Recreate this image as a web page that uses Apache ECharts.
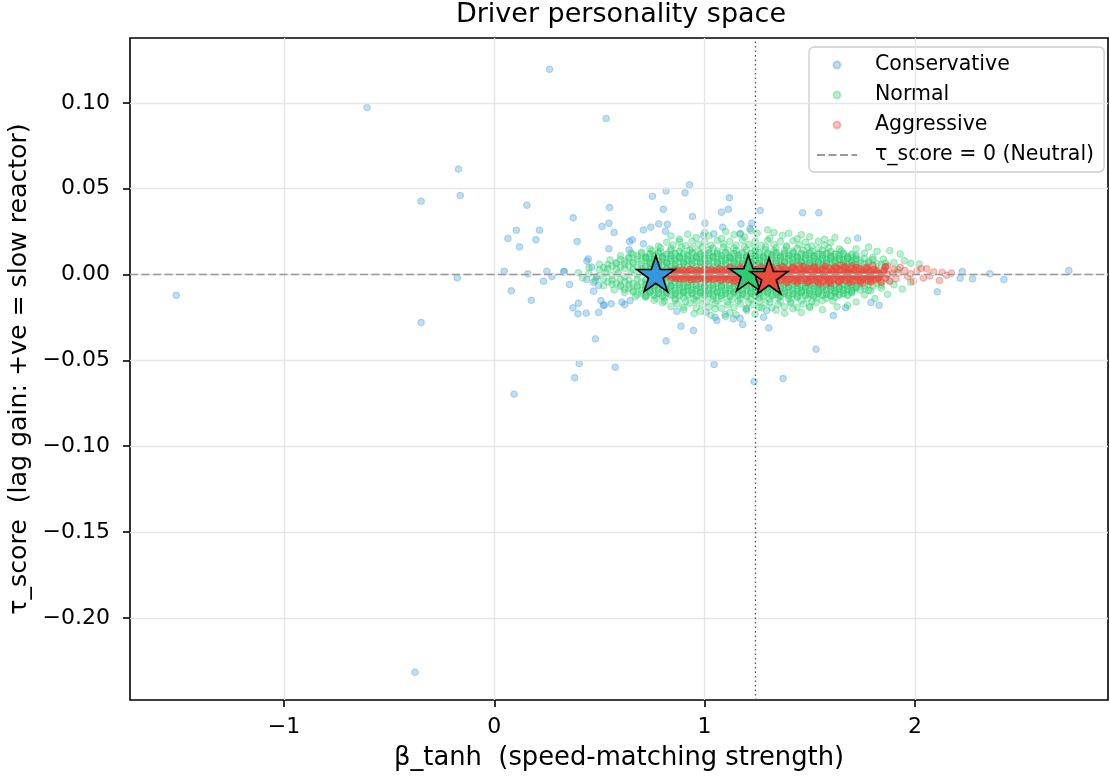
<!DOCTYPE html>
<html>
<head>
<meta charset="utf-8">
<script src="https://cdn.jsdelivr.net/npm/echarts@6/dist/echarts.min.js"></script>
<style>
html,body{margin:0;padding:0;background:#fff;}
#chart{width:1110px;height:780px;}
</style>
</head>
<body>
<div id="chart"></div>
<script>
// ---------- data ----------
const seriesNames = ['Conservative', 'Normal', 'Aggressive'];
const neutralName = 'τ_score = 0 (Neutral)';

const conservativePts = [
  [-1.512,-0.0121],[-0.605,0.0973],[-0.17,0.0614],[-0.162,0.046],[-0.348,0.0427],[-0.176,-0.0019],[-0.348,-0.028],[-0.377,-0.2317],[0.263,0.1196],[0.532,0.0909],
  [0.155,0.0404],[0.105,0.0258],[0.065,0.021],[0.12,0.0161],[0.215,0.0258],[0.198,0.0202],[0.0475,0.0019],[0.16,0.0004],[0.234,-0.0039],[0.081,-0.0095],
  [0.176,-0.015],[0.25,0.0019],[0.094,-0.0697],[0.382,-0.0602],[0.404,-0.0519],[0.575,-0.054],[0.481,-0.0375],[0.374,-0.0194],[0.398,-0.0229],[0.437,-0.0225],
  [0.496,-0.0221],[0.523,-0.0177],[0.556,-0.0171],[0.40,-0.0167],[0.62,-0.0175],[0.375,0.033],[0.394,0.0192],[0.33,0.0016],[0.274,-0.0012],[0.358,-0.0058],
  [0.928,0.0523],[0.907,0.0476],[0.817,0.0486],[0.752,0.0456],[0.804,0.038],[0.548,0.039],[0.512,0.028],[0.545,0.0299],[0.57,0.0245],[0.643,0.0192],
  [0.656,0.0202],[0.709,0.026],[0.744,0.0276],[0.782,0.0295],[0.823,0.0293],[0.814,0.0252],[0.942,0.0338],[0.545,0.015],[0.641,0.0144],[0.709,0.0179],
  [0.447,0.0091],[0.44,0.0078],[0.464,0.0043],[0.333,0.0017],[0.44,-0.0029],[0.472,-0.0045],[0.485,-0.0016],[0.496,-0.0064],[0.472,-0.0097],[0.507,-0.0152],
  [0.519,-0.018],[0.607,-0.0161],[0.646,-0.0152],[0.868,-0.0214],[0.888,-0.0301],[0.947,-0.0326],[0.817,-0.0387],
  [1.002,0.0299],[1.044,0.0237],[0.994,0.0227],[1.086,0.0276],[1.08,0.0363],[1.113,0.038],[1.118,0.0447],[1.173,0.0295],[1.224,0.0299],[1.216,0.0266],
  [1.169,0.0237],[1.007,-0.022],[1.05,-0.0249],[1.097,-0.0233],[1.137,-0.0258],[1.169,-0.0255],[1.181,-0.0291],[1.058,-0.0268],
  [1.264,0.0373],[1.466,0.036],[1.543,0.036],[1.295,-0.021],[1.28,-0.0249],[1.305,-0.0311],[1.612,-0.0239],[1.53,-0.0435],[1.235,-0.0624],[1.373,-0.0606],
  [1.045,-0.0524],[1.197,-0.02],
  [1.728,0.0212],[1.671,-0.0194],[1.791,-0.0163],[1.83,-0.0179],[2.106,-0.0101],[2.225,0.0017],[2.215,-0.0022],[2.274,-0.0025],[2.356,0.0004],[2.423,-0.0029],
  [2.732,0.0023]
];

const normalPts = [
  [0.45,0.0005],[0.49,-0.001],[0.53,0.0012],[0.56,-0.0006],[0.59,0.0008],[0.62,-0.0012],[0.65,0.001],[0.68,-0.0004],[0.71,0.0014],[0.74,-0.0010],[0.77,0.0006],[0.80,-0.0015],
  [0.50,0.0028],[0.54,0.0033],[0.58,0.0030],[0.62,0.0035],[0.66,0.0029],[0.70,0.0034],[0.74,0.0031],[0.78,0.0036],[0.82,0.0032],[0.86,0.0035],
  [0.52,-0.0027],[0.56,-0.0032],[0.60,-0.0029],[0.64,-0.0034],[0.68,-0.0028],[0.72,-0.0033],[0.76,-0.0030],[0.80,-0.0035],[0.84,-0.0031],
  [0.52,0.0040],[0.56,0.0048],[0.60,0.0043],[0.64,0.0050],[0.68,0.0041],[0.72,0.0047],[0.76,0.0044],[0.80,0.0051],[0.84,0.0046],[0.88,0.0042],[0.92,0.0049],[0.96,0.0045],
  [1.00,0.0052],[1.04,0.0043],[1.08,0.0048],[1.12,0.0046],[1.16,0.0051],[1.20,0.0044],[1.24,0.0049],[1.28,0.0053],[1.32,0.0047],[1.36,0.0055],[1.40,0.0050],[1.44,0.0057],
  [1.48,0.0052],[1.52,0.0058],[1.56,0.0054],[1.60,0.0059],[1.64,0.0055],[1.68,0.0060],[1.72,0.0056],[1.76,0.0061],[1.80,0.0055],[1.84,0.0058],
  [0.54,-0.0042],[0.58,-0.0049],[0.62,-0.0044],[0.66,-0.0051],[0.70,-0.0043],[0.74,-0.0048],[0.78,-0.0046],[0.82,-0.0052],[0.86,-0.0045],[0.90,-0.0050],[0.94,-0.0044],
  [0.98,-0.0053],[1.02,-0.0047],[1.06,-0.0051],[1.10,-0.0045],[1.14,-0.0052],[1.18,-0.0048],[1.22,-0.0054],[1.26,-0.0049],[1.30,-0.0055],[1.34,-0.0050],[1.38,-0.0057],
  [1.42,-0.0052],[1.46,-0.0058],[1.50,-0.0053],[1.54,-0.0059],[1.58,-0.0055],[1.62,-0.0060],[1.66,-0.0056],[1.70,-0.0059],[1.74,-0.0054],[1.78,-0.0058],[1.82,-0.0053],
  [0.54,0.0058],[0.58,0.0063],[0.62,0.0060],[0.66,0.0065],[0.70,0.0059],[0.74,0.0064],[0.78,0.0061],[0.82,0.0066],[0.86,0.0060],[0.90,0.0065],[0.94,0.0062],[0.98,0.0067],
  [1.02,0.0061],[1.06,0.0066],[1.10,0.0063],[1.14,0.0068],[1.18,0.0062],[1.22,0.0067],[1.26,0.0064],[1.30,0.0069],[1.34,0.0065],[1.38,0.0070],[1.42,0.0066],[1.46,0.0071],
  [1.50,0.0067],[1.54,0.0072],[1.58,0.0068],[1.62,0.0071],[1.66,0.0067],[1.70,0.0070],[1.74,0.0066],[1.78,0.0068],[1.82,0.0063],[1.86,0.0066],
  [0.56,-0.0058],[0.60,-0.0063],[0.64,-0.0060],[0.68,-0.0065],[0.72,-0.0059],[0.76,-0.0064],[0.80,-0.0061],[0.84,-0.0066],[0.88,-0.0060],[0.92,-0.0065],[0.96,-0.0062],
  [1.00,-0.0067],[1.04,-0.0061],[1.08,-0.0066],[1.12,-0.0063],[1.16,-0.0068],[1.20,-0.0062],[1.24,-0.0067],[1.28,-0.0064],[1.32,-0.0069],[1.36,-0.0065],[1.40,-0.0070],
  [1.44,-0.0066],[1.48,-0.0071],[1.52,-0.0067],[1.56,-0.0072],[1.60,-0.0068],[1.64,-0.0071],[1.68,-0.0067],[1.72,-0.0070],[1.76,-0.0066],[1.80,-0.0068],[1.84,-0.0063],
  [0.58,0.0070],[0.62,0.0078],[0.66,0.0072],[0.70,0.0080],[0.74,0.0074],[0.78,0.0079],[0.82,0.0073],[0.86,0.0081],[0.90,0.0075],[0.94,0.0082],[0.98,0.0076],[1.02,0.0080],
  [1.06,0.0074],[1.10,0.0083],[1.14,0.0077],[1.18,0.0081],[1.22,0.0075],[1.26,0.0084],[1.30,0.0078],[1.34,0.0082],[1.38,0.0076],[1.42,0.0085],[1.46,0.0079],[1.50,0.0083],
  [1.54,0.0077],[1.58,0.0084],[1.62,0.0080],[1.66,0.0086],[1.70,0.0078],[1.74,0.0083],[1.78,0.0076],
  [0.60,-0.0071],[0.64,-0.0079],[0.68,-0.0073],[0.72,-0.0080],[0.76,-0.0075],[0.80,-0.0082],[0.84,-0.0074],[0.88,-0.0079],[0.92,-0.0076],[0.96,-0.0083],[1.00,-0.0077],
  [1.04,-0.0081],[1.08,-0.0075],[1.12,-0.0084],[1.16,-0.0078],[1.20,-0.0082],[1.24,-0.0076],[1.28,-0.0085],[1.32,-0.0079],[1.36,-0.0083],[1.40,-0.0077],[1.44,-0.0086],
  [1.48,-0.0080],[1.52,-0.0084],[1.56,-0.0078],[1.60,-0.0085],[1.64,-0.0081],[1.68,-0.0086],[1.72,-0.0079],[1.76,-0.0083],
  [0.60,0.0088],[0.64,0.0093],[0.68,0.0090],[0.72,0.0095],[0.76,0.0089],[0.80,0.0094],[0.84,0.0091],[0.88,0.0096],[0.92,0.0090],[0.96,0.0095],[1.00,0.0092],[1.04,0.0097],
  [1.08,0.0091],[1.12,0.0096],[1.16,0.0093],[1.20,0.0098],[1.24,0.0092],[1.28,0.0097],[1.32,0.0094],[1.36,0.0099],[1.40,0.0093],[1.44,0.0098],[1.48,0.0094],[1.52,0.0097],
  [1.56,0.0092],[1.60,0.0096],[1.64,0.0091],[1.68,0.0095],[1.72,0.0090],[1.76,0.0093],[1.80,0.0088],
  [0.62,-0.0088],[0.66,-0.0093],[0.70,-0.0090],[0.74,-0.0095],[0.78,-0.0089],[0.82,-0.0094],[0.86,-0.0091],[0.90,-0.0096],[0.94,-0.0090],[0.98,-0.0095],[1.02,-0.0092],
  [1.06,-0.0097],[1.10,-0.0091],[1.14,-0.0096],[1.18,-0.0093],[1.22,-0.0098],[1.26,-0.0092],[1.30,-0.0097],[1.34,-0.0094],[1.38,-0.0099],[1.42,-0.0093],[1.46,-0.0098],
  [1.50,-0.0094],[1.54,-0.0097],[1.58,-0.0092],[1.62,-0.0096],[1.66,-0.0091],[1.70,-0.0095],[1.74,-0.0090],[1.78,-0.0092],
  [0.64,0.0100],[0.68,0.0108],[0.72,0.0102],[0.76,0.0110],[0.80,0.0104],[0.84,0.0109],[0.88,0.0103],[0.92,0.0111],[0.96,0.0105],[1.00,0.0112],[1.04,0.0106],[1.08,0.0110],
  [1.12,0.0104],[1.16,0.0113],[1.20,0.0107],[1.24,0.0111],[1.28,0.0105],[1.32,0.0114],[1.36,0.0108],[1.40,0.0112],[1.44,0.0106],[1.48,0.0113],[1.52,0.0109],[1.56,0.0114],
  [1.60,0.0107],[1.64,0.0111],[1.68,0.0105],[1.72,0.0110],
  [0.66,-0.0101],[0.70,-0.0109],[0.74,-0.0103],[0.78,-0.0110],[0.82,-0.0105],[0.86,-0.0112],[0.90,-0.0104],[0.94,-0.0109],[0.98,-0.0106],[1.02,-0.0113],[1.06,-0.0107],
  [1.10,-0.0111],[1.14,-0.0105],[1.18,-0.0114],[1.22,-0.0108],[1.26,-0.0112],[1.30,-0.0106],[1.34,-0.0115],[1.38,-0.0109],[1.42,-0.0113],[1.46,-0.0107],[1.50,-0.0114],
  [1.54,-0.0110],[1.58,-0.0115],[1.62,-0.0108],[1.66,-0.0112],[1.70,-0.0106],
  [0.66,0.0118],[0.70,0.0123],[0.74,0.0120],[0.78,0.0125],[0.82,0.0119],[0.86,0.0124],[0.90,0.0121],[0.94,0.0126],[0.98,0.0120],[1.02,0.0125],[1.06,0.0122],[1.10,0.0127],
  [1.14,0.0121],[1.18,0.0126],[1.22,0.0123],[1.26,0.0128],[1.30,0.0122],[1.34,0.0127],[1.38,0.0123],[1.42,0.0126],[1.46,0.0121],[1.50,0.0125],[1.54,0.0120],[1.58,0.0124],
  [1.62,0.0119],[1.66,0.0122],[1.70,0.0117],
  [0.68,-0.0118],[0.72,-0.0123],[0.76,-0.0120],[0.80,-0.0125],[0.84,-0.0119],[0.88,-0.0124],[0.92,-0.0121],[0.96,-0.0126],[1.00,-0.0120],[1.04,-0.0125],[1.08,-0.0122],
  [1.12,-0.0127],[1.16,-0.0121],[1.20,-0.0126],[1.24,-0.0123],[1.28,-0.0128],[1.32,-0.0122],[1.36,-0.0127],[1.40,-0.0123],[1.44,-0.0126],[1.48,-0.0121],[1.52,-0.0125],
  [1.56,-0.0120],[1.60,-0.0124],[1.64,-0.0119],[1.68,-0.0121],
  [0.70,0.0130],[0.75,0.0138],[0.79,0.0133],[0.84,0.0141],[0.88,0.0135],[0.93,0.0142],[0.97,0.0136],[1.02,0.0144],[1.06,0.0137],[1.11,0.0143],[1.15,0.0138],[1.20,0.0145],
  [1.24,0.0139],[1.29,0.0144],[1.33,0.0137],[1.38,0.0142],[1.42,0.0136],[1.47,0.0141],[1.51,0.0135],[1.56,0.0140],[1.60,0.0134],[1.65,0.0138],
  [0.72,-0.0131],[0.77,-0.0139],[0.81,-0.0134],[0.86,-0.0142],[0.90,-0.0136],[0.95,-0.0143],[0.99,-0.0137],[1.04,-0.0144],[1.08,-0.0138],[1.13,-0.0145],[1.17,-0.0139],
  [1.22,-0.0144],[1.26,-0.0137],[1.31,-0.0143],[1.35,-0.0136],[1.40,-0.0141],[1.44,-0.0135],[1.49,-0.0140],[1.53,-0.0134],[1.58,-0.0139],[1.62,-0.0133],
  [0.74,0.0150],[0.79,0.0156],[0.84,0.0152],[0.89,0.0158],[0.94,0.0153],[0.99,0.0159],[1.04,0.0154],[1.09,0.0160],[1.14,0.0155],[1.19,0.0161],[1.24,0.0156],[1.29,0.0160],
  [1.34,0.0155],[1.39,0.0159],[1.44,0.0153],[1.49,0.0157],[1.54,0.0152],[1.59,0.0155],[1.64,0.0150],
  [0.76,-0.0150],[0.81,-0.0156],[0.86,-0.0152],[0.91,-0.0158],[0.96,-0.0153],[1.01,-0.0159],[1.06,-0.0154],[1.11,-0.0160],[1.16,-0.0155],[1.21,-0.0161],[1.26,-0.0156],
  [1.31,-0.0160],[1.36,-0.0155],[1.41,-0.0159],[1.46,-0.0153],[1.51,-0.0157],[1.56,-0.0152],[1.61,-0.0154],
  [0.78,0.0165],[0.85,0.0172],[0.91,0.0168],[0.97,0.0176],[1.03,0.0170],[1.09,0.0178],[1.15,0.0171],[1.21,0.0177],[1.27,0.0169],[1.33,0.0175],[1.39,0.0167],[1.45,0.0173],
  [1.51,0.0166],[1.57,0.0170],
  [0.80,-0.0164],[0.87,-0.0171],[0.93,-0.0167],[0.99,-0.0175],[1.05,-0.0169],[1.11,-0.0177],[1.17,-0.0170],[1.23,-0.0176],[1.29,-0.0168],[1.35,-0.0174],[1.41,-0.0166],
  [1.47,-0.0172],[1.53,-0.0165],
  [0.82,0.0188],[0.88,0.0192],[0.94,0.0195],[1.00,0.0190],[1.06,0.0198],[1.12,0.0193],[1.18,0.0200],[1.24,0.0194],[1.30,0.0199],[1.36,0.0192],[1.42,0.0196],[1.48,0.0189],
  [1.54,0.0193],[1.60,0.0186],
  [0.84,-0.0186],[0.90,-0.0191],[0.96,-0.0194],[1.02,-0.0189],[1.08,-0.0196],[1.14,-0.0192],[1.20,-0.0197],[1.26,-0.0190],[1.32,-0.0194],[1.38,-0.0188],[1.44,-0.0191],
  [1.50,-0.0185],
  [0.88,0.0205],[0.96,0.0215],[1.02,0.0225],[1.08,0.0210],[1.14,0.0232],[1.19,0.0218],[1.25,0.0240],[1.31,0.0212],[1.37,0.0228],[1.44,0.0208],[1.50,0.0220],[1.57,0.0205],
  [1.62,0.0215],[1.68,0.0198],
  [0.92,0.0235],[1.00,0.0245],[1.10,0.0250],[1.17,0.0238],[1.22,0.0255],[1.33,0.0245],[1.40,0.0240],[1.46,0.0232],[1.30,0.0260],[0.84,0.0225],
  [0.90,-0.0205],[0.98,-0.0215],[1.05,-0.0200],[1.12,-0.0222],[1.20,-0.0210],[1.27,-0.0195],[1.34,-0.0208],[1.42,-0.0200],[1.50,-0.0192],[1.56,-0.0205],[1.63,-0.0188],
  [0.95,-0.0228],[1.03,-0.0238],[1.15,-0.0235],[1.24,-0.0230],[1.38,-0.0225],[1.46,-0.0222],[1.10,-0.0245],
  [1.72,0.0150],[1.76,0.0125],[1.78,0.0160],[1.80,0.0100],[1.82,0.0135],[1.85,0.0090],[1.88,0.0140],[1.90,0.0070],[1.93,0.0120],[1.95,0.0080],[1.98,0.0065],[2.02,0.0060],
  [1.76,-0.0120],[1.79,-0.0095],[1.81,-0.0140],[1.84,-0.0080],[1.87,-0.0115],[1.90,-0.0060],[1.94,-0.0085],[1.98,-0.0045],[1.72,-0.0160],[1.68,-0.0180],[1.86,0.0045],
  [1.88,-0.0035],[1.92,0.0030],
  [0.45,0.0040],[0.48,-0.0035],[0.50,0.0060],[0.52,-0.0065],[0.55,0.0085],[0.57,-0.0090],[0.60,0.0110],[0.62,-0.0105],[0.65,0.0125],[0.67,-0.0130],[0.40,0.0010],[0.42,-0.0020]
];

const aggressivePts = [
  [0.86,0.0022],[0.895,0.0026],[0.93,0.0029],[0.965,0.0025],[1.0,0.0031],[1.035,0.0027],[1.07,0.0033],[1.105,0.0028],[1.14,0.0032],[1.175,0.0030],[1.21,0.0034],
  [1.245,0.0029],[1.28,0.0035],[1.315,0.0031],[1.35,0.0036],[1.385,0.0033],[1.42,0.0038],[1.455,0.0034],[1.49,0.0037],[1.525,0.0039],[1.56,0.0035],[1.595,0.0038],
  [1.63,0.0036],[1.665,0.0040],[1.70,0.0034],[1.735,0.0037],[1.77,0.0033],[1.805,0.0030],
  [0.838,0.0020],[0.873,0.0023],[0.908,0.0019],[0.943,0.0024],[0.978,0.0021],[1.013,0.0025],[1.048,0.0020],[1.083,0.0026],[1.118,0.0022],[1.153,0.0025],[1.188,0.0021],
  [1.223,0.0027],[1.258,0.0023],[1.293,0.0026],[1.328,0.0024],[1.363,0.0028],[1.398,0.0025],[1.433,0.0029],[1.468,0.0026],[1.503,0.0030],[1.538,0.0027],[1.573,0.0031],
  [1.608,0.0028],[1.643,0.0030],[1.678,0.0027],[1.713,0.0029],[1.748,0.0025],[1.783,0.0027],[1.818,0.0023],[1.853,0.0026],
  [0.82,0.0011],[0.853,0.0014],[0.888,0.0012],[0.921,0.0016],[0.956,0.0013],[0.99,0.0017],[1.024,0.0012],[1.058,0.0018],[1.092,0.0014],[1.127,0.0016],[1.161,0.0013],
  [1.196,0.0019],[1.23,0.0015],[1.264,0.0017],[1.299,0.0014],[1.333,0.0019],[1.368,0.0016],[1.402,0.0020],[1.437,0.0015],[1.471,0.0018],[1.506,0.0021],[1.54,0.0016],
  [1.575,0.0019],[1.609,0.0017],[1.644,0.0020],[1.678,0.0015],[1.713,0.0018],[1.747,0.0014],[1.782,0.0017],[1.816,0.0012],[1.85,0.0015],
  [0.80,0.0001],[0.836,-0.0003],[0.87,0.0004],[0.905,-0.0002],[0.94,0.0003],[0.974,-0.0004],[1.008,0.0002],[1.043,-0.0001],[1.077,0.0005],[1.112,-0.0003],[1.146,0.0002],
  [1.181,-0.0002],[1.215,0.0004],[1.25,-0.0004],[1.284,0.0001],[1.319,0.0003],[1.353,-0.0003],[1.388,0.0002],[1.422,-0.0001],[1.457,0.0004],[1.491,-0.0003],[1.526,0.0001],
  [1.56,-0.0002],[1.595,0.0003],[1.629,-0.0004],[1.664,0.0002],[1.698,-0.0001],[1.733,0.0003],[1.767,-0.0002],[1.802,0.0001],[1.836,-0.0003],[1.87,0.0002],
  [0.818,0.0003],[0.853,-0.0001],[0.888,0.0002],[0.923,-0.0003],[0.958,0.0001],[0.993,-0.0002],[1.028,0.0004],[1.063,-0.0003],[1.098,0.0001],[1.133,-0.0001],[1.168,0.0003],
  [1.203,-0.0002],[1.238,0.0002],[1.273,-0.0004],[1.308,0.0003],[1.343,-0.0001],[1.378,0.0002],[1.413,-0.0003],[1.448,0.0001],[1.483,0.0003],[1.518,-0.0002],[1.553,0.0002],
  [1.588,-0.0003],[1.623,0.0001],[1.658,-0.0002],[1.693,0.0003],[1.728,-0.0001],[1.763,0.0002],[1.798,-0.0002],[1.833,0.0001],
  [0.825,-0.0010],[0.86,-0.0014],[0.894,-0.0012],[0.929,-0.0016],[0.963,-0.0013],[0.998,-0.0017],[1.032,-0.0014],[1.067,-0.0018],[1.101,-0.0013],[1.136,-0.0017],
  [1.17,-0.0015],[1.205,-0.0019],[1.239,-0.0014],[1.274,-0.0018],[1.308,-0.0016],[1.343,-0.0020],[1.377,-0.0015],[1.412,-0.0019],[1.446,-0.0017],[1.481,-0.0021],
  [1.515,-0.0016],[1.55,-0.0019],[1.584,-0.0018],[1.619,-0.0021],[1.653,-0.0016],[1.688,-0.0019],[1.722,-0.0015],[1.757,-0.0018],[1.791,-0.0014],[1.826,-0.0016],
  [0.845,-0.0019],[0.88,-0.0023],[0.915,-0.0020],[0.95,-0.0024],[0.985,-0.0021],[1.02,-0.0025],[1.055,-0.0022],[1.09,-0.0026],[1.125,-0.0023],[1.16,-0.0027],[1.195,-0.0024],
  [1.23,-0.0026],[1.265,-0.0025],[1.30,-0.0028],[1.335,-0.0026],[1.37,-0.0029],[1.405,-0.0027],[1.44,-0.0030],[1.475,-0.0028],[1.51,-0.0031],[1.545,-0.0028],[1.58,-0.0030],
  [1.615,-0.0029],[1.65,-0.0031],[1.685,-0.0028],[1.72,-0.0030],[1.755,-0.0027],[1.79,-0.0028],[1.825,-0.0024],[1.86,-0.0022],
  [0.865,-0.0023],[0.9,-0.0027],[0.935,-0.0030],[0.97,-0.0026],[1.005,-0.0031],[1.04,-0.0028],[1.075,-0.0033],[1.11,-0.0029],[1.145,-0.0034],[1.18,-0.0030],[1.215,-0.0035],
  [1.25,-0.0031],[1.285,-0.0036],[1.32,-0.0032],[1.355,-0.0037],[1.39,-0.0034],[1.425,-0.0038],[1.46,-0.0035],[1.495,-0.0039],[1.53,-0.0036],[1.565,-0.0040],[1.60,-0.0037],
  [1.635,-0.0039],[1.67,-0.0035],[1.705,-0.0038],[1.74,-0.0034],[1.775,-0.0036],[1.81,-0.0031],
  [0.845,0.0006],[0.915,0.0008],[0.985,0.0005],[1.055,0.0009],[1.125,0.0006],[1.195,0.0008],[1.265,0.0007],[1.335,0.0009],[1.405,0.0006],[1.475,0.0010],[1.545,0.0007],
  [1.615,0.0009],[1.685,0.0006],[1.755,0.0008],[1.825,0.0005],
  [0.88,-0.0007],[0.95,-0.0006],[1.02,-0.0009],[1.09,-0.0007],[1.16,-0.0008],[1.23,-0.0006],[1.30,-0.0009],[1.37,-0.0007],[1.44,-0.0010],[1.51,-0.0008],[1.58,-0.0009],
  [1.65,-0.0007],[1.72,-0.0010],[1.79,-0.0008],
  [1.12,0.0040],[1.17,0.0043],[1.22,0.0041],[1.27,0.0044],[1.32,0.0042],[1.37,0.0045],[1.42,0.0043],[1.47,0.0046],[1.52,0.0044],[1.57,0.0046],[1.62,0.0043],[1.67,0.0045],
  [1.72,0.0042],[1.77,0.0043],
  [1.14,-0.0041],[1.19,-0.0043],[1.24,-0.0042],[1.29,-0.0045],[1.34,-0.0043],[1.39,-0.0046],[1.44,-0.0044],[1.49,-0.0046],[1.54,-0.0045],[1.59,-0.0047],[1.64,-0.0044],
  [1.69,-0.0046],[1.74,-0.0043],[1.79,-0.0042],
  [1.86,0.0045],[1.88,-0.0040],[1.90,0.0030],[1.895,0.0008],[1.91,-0.0025],[1.93,0.0042],[1.952,0.0023],[1.965,-0.0012],[1.992,-0.0039],[2.01,0.0020],[2.03,0.0035],
  [2.056,0.0033],[2.07,-0.0008],[2.09,0.0015],[2.116,-0.0035],[2.13,0.0012],[2.15,-0.0005],[2.174,0.0008],[1.84,-0.0045],[1.87,0.0050],[1.80,0.0052],[1.75,-0.0050],
  [1.65,0.0055],[1.55,-0.0055],[1.45,0.0052],[1.60,-0.0052],[1.70,0.0050],[1.92,0.0010],[1.98,0.0004],[2.04,-0.0020]
];

// cluster centroids (stars): [beta, tau]
const centroidConservative = [0.768, 0.0016];
const centroidNormal = [1.208, 0.0021];
const centroidAggressive = [1.306, 0.0004];

// reference lines
const neutralTau = 0;
const verticalRefBeta = 1.235;

// axes
const xRange = [-1.732, 2.918];
const yRange = [-0.2479, 0.1378];
const xTicks = [-1, 0, 1, 2];
const yTicks = [-0.20, -0.15, -0.10, -0.05, 0.00, 0.05, 0.10];

// ---------- chart ----------
const FONT = 'DejaVu Sans';
const BLUE = '#3498db', GREEN = '#2ecc71', RED = '#e74c3c';
const fmtMinus = (v, d) => (v < -1e-12 ? '\u2212' : '') + Math.abs(v).toFixed(d);
const STAR = 'path://M50,0 L61.23,34.55 L97.55,34.55 L68.16,55.9 L79.39,90.45 L50,69.1 L20.61,90.45 L31.84,55.9 L2.45,34.55 L38.77,34.55 Z';

// Heavily over-plotted cores (thousands of overlapping points in the original) are drawn
// with a stronger alpha so the reduced point set reaches the same saturation.
const inNormalCore = p => p[0] >= 0.72 && p[0] <= 1.72 && Math.abs(p[1]) <= 0.0132;
const inAggrCore = p => p[0] >= 0.8 && p[0] <= 1.87 && Math.abs(p[1]) <= 0.0047;

function scatter(name, data, rgb, alpha) {
  return {
    name: name, type: 'scatter', data: data, z: 3,
    symbol: 'circle', symbolSize: 6.5,
    itemStyle: { color: 'rgba(' + rgb + ',' + alpha + ')', borderColor: 'rgba(' + rgb + ',' + alpha + ')', borderWidth: 1.2 },
    emphasis: { disabled: true }, silent: true
  };
}
function star(name, pt, col) {
  return {
    name: name, type: 'scatter', data: [pt], z: 10,
    symbol: STAR, symbolSize: [38, 36], symbolOffset: [0, 2],
    itemStyle: { color: col, borderColor: '#000', borderWidth: 1.6, opacity: 1 },
    emphasis: { disabled: true }, silent: true
  };
}

const chart = echarts.init(document.getElementById('chart'), null, { renderer: 'canvas' });
chart.setOption({
  animation: false,
  backgroundColor: '#fff',
  textStyle: { fontFamily: FONT },
  title: {
    text: 'Driver personality space',
    left: 621, textAlign: 'center', top: 1, padding: 0,
    textStyle: { fontFamily: FONT, fontSize: 27, fontWeight: 'normal', color: '#000' }
  },
  grid: {
    left: 130, right: 2, top: 38, bottom: 80,
    containLabel: false, outerBoundsMode: 'none',
    show: true, borderColor: '#000', borderWidth: 1.6, backgroundColor: 'transparent'
  },
  legend: {
    data: [seriesNames[0], seriesNames[1], seriesNames[2], { name: neutralName, itemStyle: { opacity: 0 } }],
    orient: 'vertical', left: 809, top: 47,
    padding: [6, 10, 5, 7],
    itemGap: 6, itemWidth: 40, itemHeight: 7,
    backgroundColor: 'rgba(255,255,255,0.8)', borderColor: '#cccccc', borderWidth: 1.3, borderRadius: 5,
    textStyle: { fontFamily: FONT, fontSize: 20.5, color: '#000', lineHeight: 24, padding: [0, 0, 0, 13] },
    selectedMode: false
  },
  xAxis: {
    type: 'value', min: xRange[0], max: xRange[1],
    name: 'β_tanh  (speed-matching strength)', nameLocation: 'middle', nameGap: 45,
    nameTextStyle: { fontFamily: FONT, fontSize: 25.8, color: '#000' },
    axisLine: { show: false, onZero: false },
    axisTick: { show: true, inside: false, length: 7, lineStyle: { color: '#000', width: 1.6 }, customValues: xTicks },
    axisLabel: { margin: 16, fontFamily: FONT, fontSize: 22, color: '#000', customValues: xTicks,
      formatter: v => fmtMinus(v, 0) },
    splitLine: { show: false }
  },
  yAxis: {
    type: 'value', min: yRange[0], max: yRange[1],
    name: 'τ_score  (lag gain: +ve = slow reactor)', nameLocation: 'middle', nameGap: 85, nameRotate: 90,
    nameTextStyle: { fontFamily: FONT, fontSize: 25.2, color: '#000' },
    axisLine: { show: false, onZero: false },
    axisTick: { show: true, inside: false, length: 7, lineStyle: { color: '#000', width: 1.6 }, customValues: yTicks },
    axisLabel: { margin: 20, fontFamily: FONT, fontSize: 22, color: '#000', customValues: yTicks,
      formatter: v => fmtMinus(v, 2) },
    splitLine: { show: false }
  },
  series: [
    {
      name: 'gridlines', type: 'scatter', data: [], z: 1, silent: true,
      markLine: {
        silent: true, symbol: 'none', label: { show: false }, animation: false,
        lineStyle: { color: '#e6e6e6', width: 1.4, type: 'solid' },
        data: xTicks.map(v => ({ xAxis: v })).concat(yTicks.map(v => ({ yAxis: v })))
      }
    },
    scatter(seriesNames[0], conservativePts, '52,152,219', 0.4),
    scatter(seriesNames[1], normalPts.filter(p => !inNormalCore(p)), '46,204,113', 0.4),
    scatter(seriesNames[1], normalPts.filter(inNormalCore), '46,204,113', 0.62),
    scatter(seriesNames[2], aggressivePts.filter(p => !inAggrCore(p)), '231,76,60', 0.4),
    scatter(seriesNames[2], aggressivePts.filter(inAggrCore), '231,76,60', 0.7),
    {
      name: neutralName, type: 'line', z: 6, silent: true,
      data: [[xRange[0], neutralTau], [xRange[1], neutralTau]],
      symbol: 'none', showSymbol: false,
      lineStyle: { color: '#999999', width: 1.5, type: [8, 3.5] },
      itemStyle: { color: '#999999' }
    },
    {
      name: 'refline', type: 'scatter', data: [], z: 7, silent: true,
      markLine: {
        silent: true, symbol: 'none', label: { show: false }, animation: false,
        lineStyle: { color: '#555555', width: 1.3, type: [1.5, 3] },
        data: [{ xAxis: verticalRefBeta }]
      }
    },
    star('Conservative centroid', centroidConservative, BLUE),
    star('Normal centroid', centroidNormal, GREEN),
    star('Aggressive centroid', centroidAggressive, RED)
  ]
});
</script>
</body>
</html>
